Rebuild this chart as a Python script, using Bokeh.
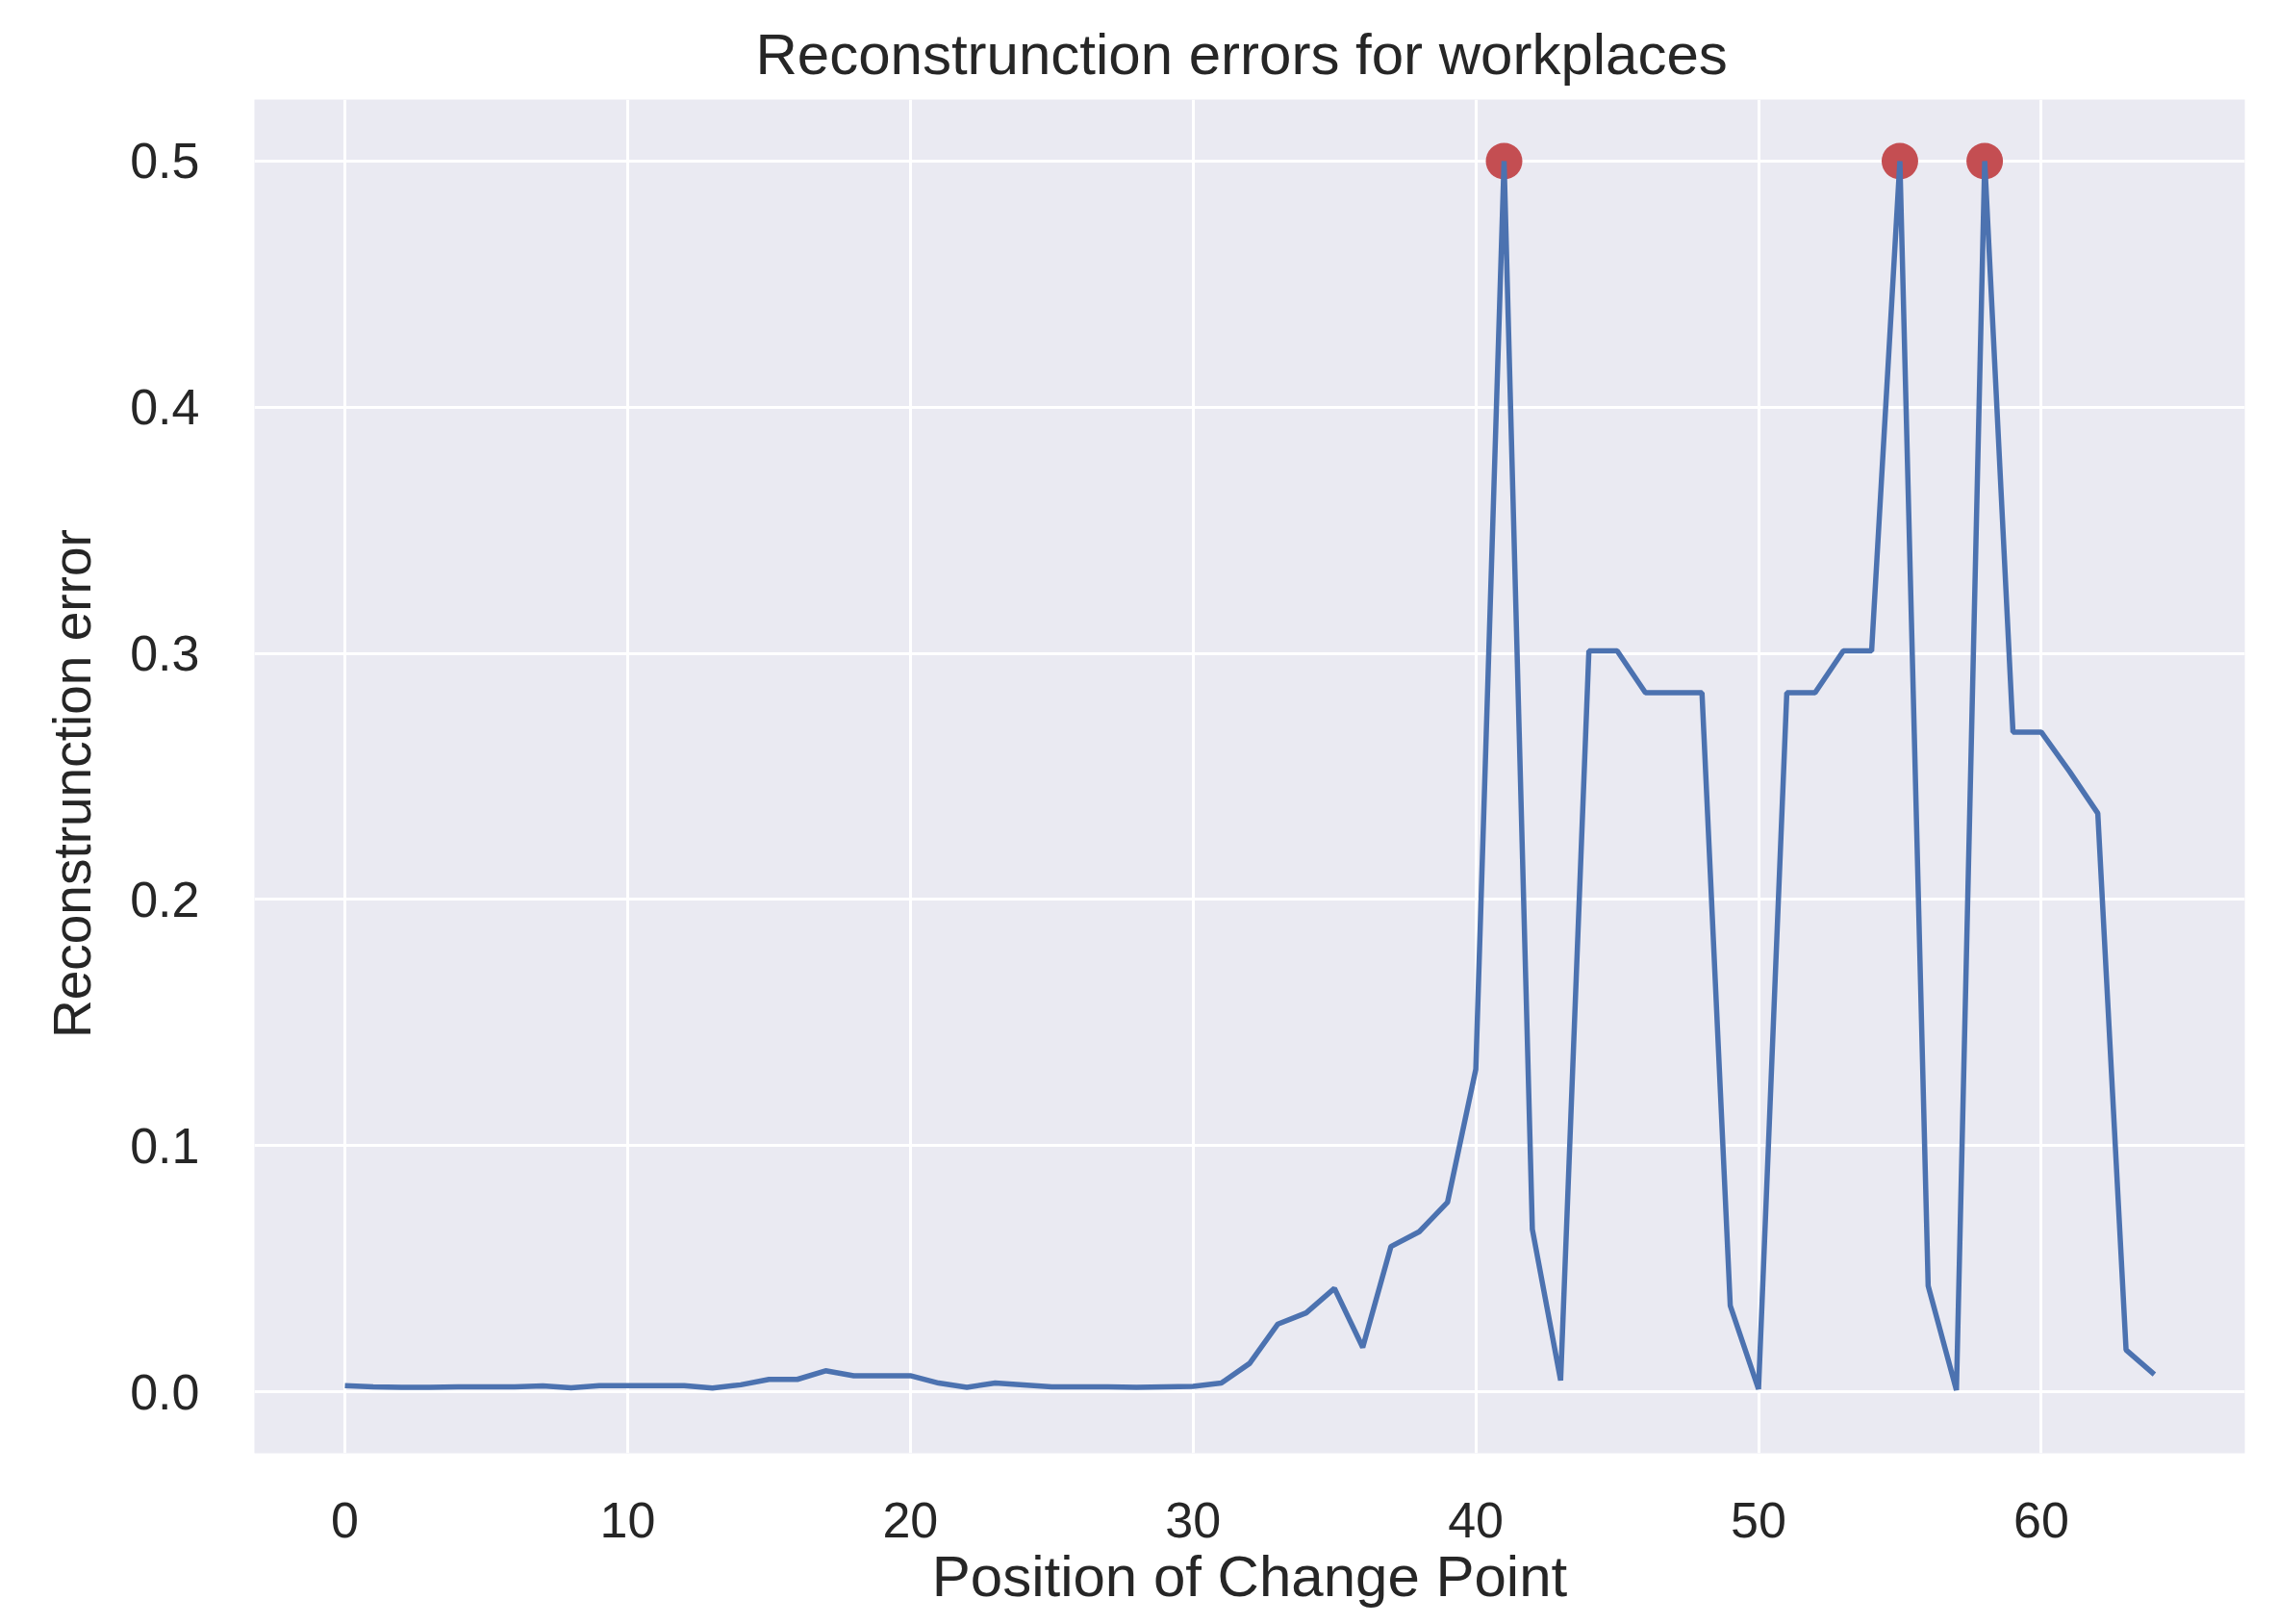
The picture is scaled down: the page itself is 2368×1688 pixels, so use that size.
from bokeh.plotting import figure
from bokeh.embed import file_html
from bokeh.resources import INLINE
from bokeh.models import FixedTicker, Range1d, CustomJSTickFormatter

positions = list(range(65))
errors = [0.0025, 0.002, 0.0018, 0.0018, 0.002, 0.002, 0.002, 0.0024, 0.0016, 0.0025,
          0.0025, 0.0025, 0.0025, 0.0015, 0.0028, 0.005, 0.005, 0.0085, 0.0065, 0.0065,
          0.0065, 0.0035, 0.0018, 0.0035, 0.0028, 0.002, 0.002, 0.002, 0.0018, 0.002,
          0.0022, 0.0035, 0.0115, 0.0275, 0.032, 0.042, 0.018, 0.059, 0.065, 0.077,
          0.131, 0.5, 0.066, 0.0046, 0.301, 0.301, 0.284, 0.284, 0.284, 0.035,
          0.001, 0.284, 0.284, 0.301, 0.301, 0.5, 0.043, 0.0006, 0.5, 0.268,
          0.268, 0.252, 0.235, 0.017, 0.007]
change_points = [41, 55, 58]
change_errors = [errors[i] for i in change_points]

x_ticks = [0, 10, 20, 30, 40, 50, 60]
y_ticks = [0.0, 0.1, 0.2, 0.3, 0.4, 0.5]

TEXT = "#262626"
FONT = "Liberation Sans"

p = figure(frame_width=2069, frame_height=1407, output_backend="svg", toolbar_location=None,
           x_range=Range1d(-3.2, 67.2), y_range=Range1d(-0.025, 0.525),
           title="Reconstrunction  errors for workplaces",
           x_axis_label="Position of Change Point", y_axis_label="Reconstrunction  error",
           min_border_left=264, min_border_top=103, min_border_right=10, min_border_bottom=10)

p.background_fill_color = "#EAEAF2"
p.border_fill_color = "white"
p.outline_line_color = None

p.title.align = "center"
p.title.text_font = FONT
p.title.text_font_size = "60px"
p.title.text_font_style = "normal"
p.title.text_color = TEXT
p.title.standoff = 27

p.xaxis.ticker = FixedTicker(ticks=x_ticks)
p.yaxis.ticker = FixedTicker(ticks=y_ticks)
p.yaxis.formatter = CustomJSTickFormatter(code="return tick.toFixed(1);")

for ax in (p.xaxis, p.yaxis):
    ax.axis_line_color = None
    ax.major_tick_line_color = None
    ax.minor_tick_line_color = None
    ax.major_tick_out = 0
    ax.major_tick_in = 0
    ax.minor_tick_out = 0
    ax.major_label_text_font = FONT
    ax.major_label_text_font_size = "52px"
    ax.major_label_text_color = TEXT
    ax.axis_label_text_font = FONT
    ax.axis_label_text_font_style = "normal"
    ax.axis_label_text_color = TEXT

p.xaxis.axis_label_text_font_size = "60px"
p.yaxis.axis_label_text_font_size = "55px"
p.xaxis.major_label_standoff = 51
p.yaxis.major_label_standoff = 57
p.xaxis.axis_label_standoff = 4
p.yaxis.axis_label_standoff = 26

p.xgrid.grid_line_color = "white"
p.ygrid.grid_line_color = "white"
p.xgrid.grid_line_width = 3
p.ygrid.grid_line_width = 3

p.scatter(change_points, change_errors, size=38, color="#C44E52", line_color=None)
p.line(positions, errors, line_color="#4C72B0", line_width=5.5)

open("out.html", "w").write(file_html(p, INLINE))
